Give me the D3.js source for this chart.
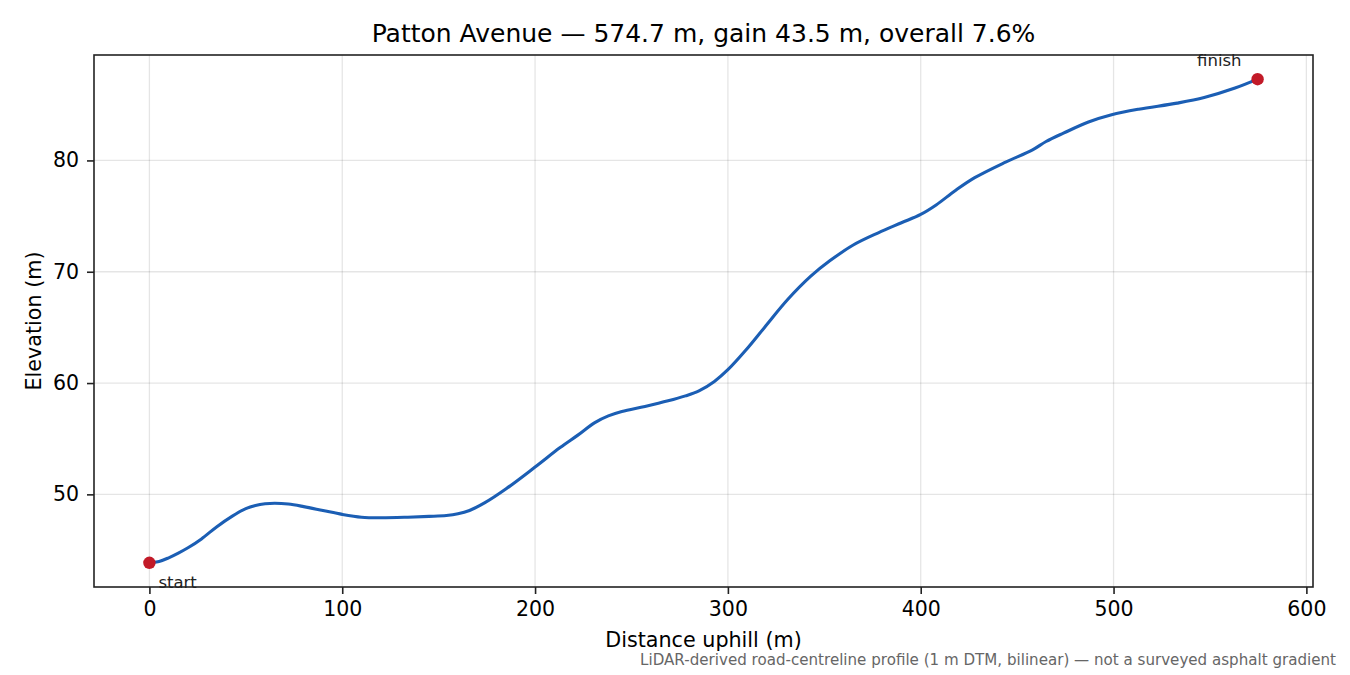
<html>
<head>
<title>Patton Avenue profile</title>
<script src="https://d3js.org/d3.v7.min.js"></script>
<style>
body { margin: 0; background: #fff; font-family: 'DejaVu Sans', sans-serif; }
.grid line { stroke: #000; stroke-opacity: 0.1; stroke-width: 1.3; }
.axis path, .axis line { stroke: #222; stroke-width: 1.6; }
.axis text { font-family: 'DejaVu Sans', sans-serif; font-size: 20.5px; fill: #000; }
</style>
</head>
<body>
<div id="chart"></div>
<script>
// distance along the road (m) and elevation (m)
var distance = [0, 5, 10, 15, 20, 27, 35, 43, 50, 55, 60, 65, 72, 80, 90, 100, 110, 120, 134, 145, 154,
  160, 166, 174, 185, 200, 213, 222, 231, 238, 245, 257, 269, 278, 285, 293, 300, 309, 319, 331, 343,
  353, 365, 378, 390, 400, 408, 418, 428, 444, 458, 465, 474, 487, 499, 513, 533, 547, 563, 574.7];
var elevation = [43.85, 43.97, 44.3, 44.72, 45.2, 46.0, 47.1, 48.05, 48.72, 49.0, 49.15, 49.2, 49.13, 48.9, 48.55, 48.2, 47.95, 47.9, 47.95, 48.02, 48.1,
  48.25, 48.55, 49.25, 50.5, 52.45, 54.2, 55.3, 56.45, 57.05, 57.45, 57.9, 58.4, 58.85, 59.3, 60.15, 61.2, 62.9, 65.0, 67.5, 69.6,
  71.0, 72.4, 73.5, 74.4, 75.15, 76.0, 77.3, 78.45, 79.85, 80.95, 81.7, 82.45, 83.45, 84.1, 84.6, 85.15, 85.65, 86.5, 87.3];
var xTicks = [0, 100, 200, 300, 400, 500, 600];
var yTicks = [50, 60, 70, 80];
var endLabels = ["start", "finish"];

var titleText = "Patton Avenue \u2014 574.7 m, gain 43.5 m, overall 7.6%";
var note = "LiDAR-derived road-centreline profile (1 m DTM, bilinear) \u2014 not a surveyed asphalt gradient";

var W = 1350, H = 675;
var margin = {top: 55, right: 37, bottom: 88, left: 94};
var width = W - margin.left - margin.right,
    height = H - margin.top - margin.bottom;

var svg = d3.select("#chart").append("svg").attr("width", W).attr("height", H);
var g = svg.append("g").attr("transform", "translate(" + margin.left + "," + margin.top + ")");

var points = distance.map(function(d, i) { return {d: d, e: elevation[i]}; });

// 5% padding on both axes
var xMin = d3.min(distance), xMax = d3.max(distance);
var yMin = d3.min(elevation), yMax = d3.max(elevation);
var xPad = (xMax - xMin) * 0.05, yPad = (yMax - yMin) * 0.05;

var x = d3.scaleLinear().domain([xMin - xPad, xMax + xPad]).range([0, width]);
var y = d3.scaleLinear().domain([yMin - yPad, yMax + yPad]).range([height, 0]);

// grid
g.append("g").attr("class", "grid")
  .selectAll("line").data(xTicks.filter(function(t) { return x(t) <= width; }))
  .enter().append("line")
  .attr("x1", function(d) { return x(d); }).attr("x2", function(d) { return x(d); })
  .attr("y1", 0).attr("y2", height);
g.append("g").attr("class", "grid")
  .selectAll("line").data(yTicks)
  .enter().append("line")
  .attr("y1", function(d) { return y(d); }).attr("y2", function(d) { return y(d); })
  .attr("x1", 0).attr("x2", width);

// the profile
var line = d3.line()
  .x(function(p) { return x(p.d); })
  .y(function(p) { return y(p.e); })
  .curve(d3.curveCatmullRom.alpha(0.5));

g.append("path").datum(points)
  .attr("fill", "none")
  .attr("stroke", "#1b5eb4")
  .attr("stroke-width", 3.1)
  .attr("stroke-linejoin", "round")
  .attr("d", line);

// end markers
var ends = [points[0], points[points.length - 1]];
g.selectAll(".endpt").data(ends).enter().append("circle")
  .attr("class", "endpt")
  .attr("cx", function(p) { return x(p.d); })
  .attr("cy", function(p) { return y(p.e); })
  .attr("r", 6.2)
  .attr("fill", "#c21a28");

g.append("text")
  .attr("x", x(ends[0].d) + 9).attr("y", y(ends[0].e) + 25)
  .style("font-size", "16.5px").style("fill", "#222")
  .text(endLabels[0]);
g.append("text")
  .attr("x", x(ends[1].d) - 16).attr("y", y(ends[1].e) - 13)
  .attr("text-anchor", "end")
  .style("font-size", "16.5px").style("fill", "#222")
  .text(endLabels[1]);

// frame
g.append("rect").attr("width", width).attr("height", height)
  .attr("fill", "none").attr("stroke", "#222").attr("stroke-width", 1.6);

// axes
g.append("g").attr("class", "axis")
  .attr("transform", "translate(0," + height + ")")
  .call(d3.axisBottom(x).tickValues(xTicks).tickSize(7).tickPadding(7).tickFormat(d3.format("d")))
  .call(function(a) { a.select(".domain").remove(); });

g.append("g").attr("class", "axis")
  .call(d3.axisLeft(y).tickValues(yTicks).tickSize(7).tickPadding(8).tickFormat(d3.format("d")))
  .call(function(a) { a.select(".domain").remove(); });

// labels
svg.append("text")
  .attr("x", margin.left + width / 2).attr("y", 42)
  .attr("text-anchor", "middle")
  .style("font-size", "25px")
  .text(titleText);

svg.append("text")
  .attr("x", margin.left + width / 2).attr("y", 647)
  .attr("text-anchor", "middle")
  .style("font-size", "20.7px")
  .text("Distance uphill (m)");

svg.append("text")
  .attr("transform", "translate(41," + (margin.top + height / 2) + ") rotate(-90)")
  .attr("text-anchor", "middle")
  .style("font-size", "20.7px")
  .text("Elevation (m)");

svg.append("text")
  .attr("x", 1336).attr("y", 665)
  .attr("text-anchor", "end")
  .style("font-size", "15.1px").style("fill", "#666")
  .text(note);
</script>
</body>
</html>
